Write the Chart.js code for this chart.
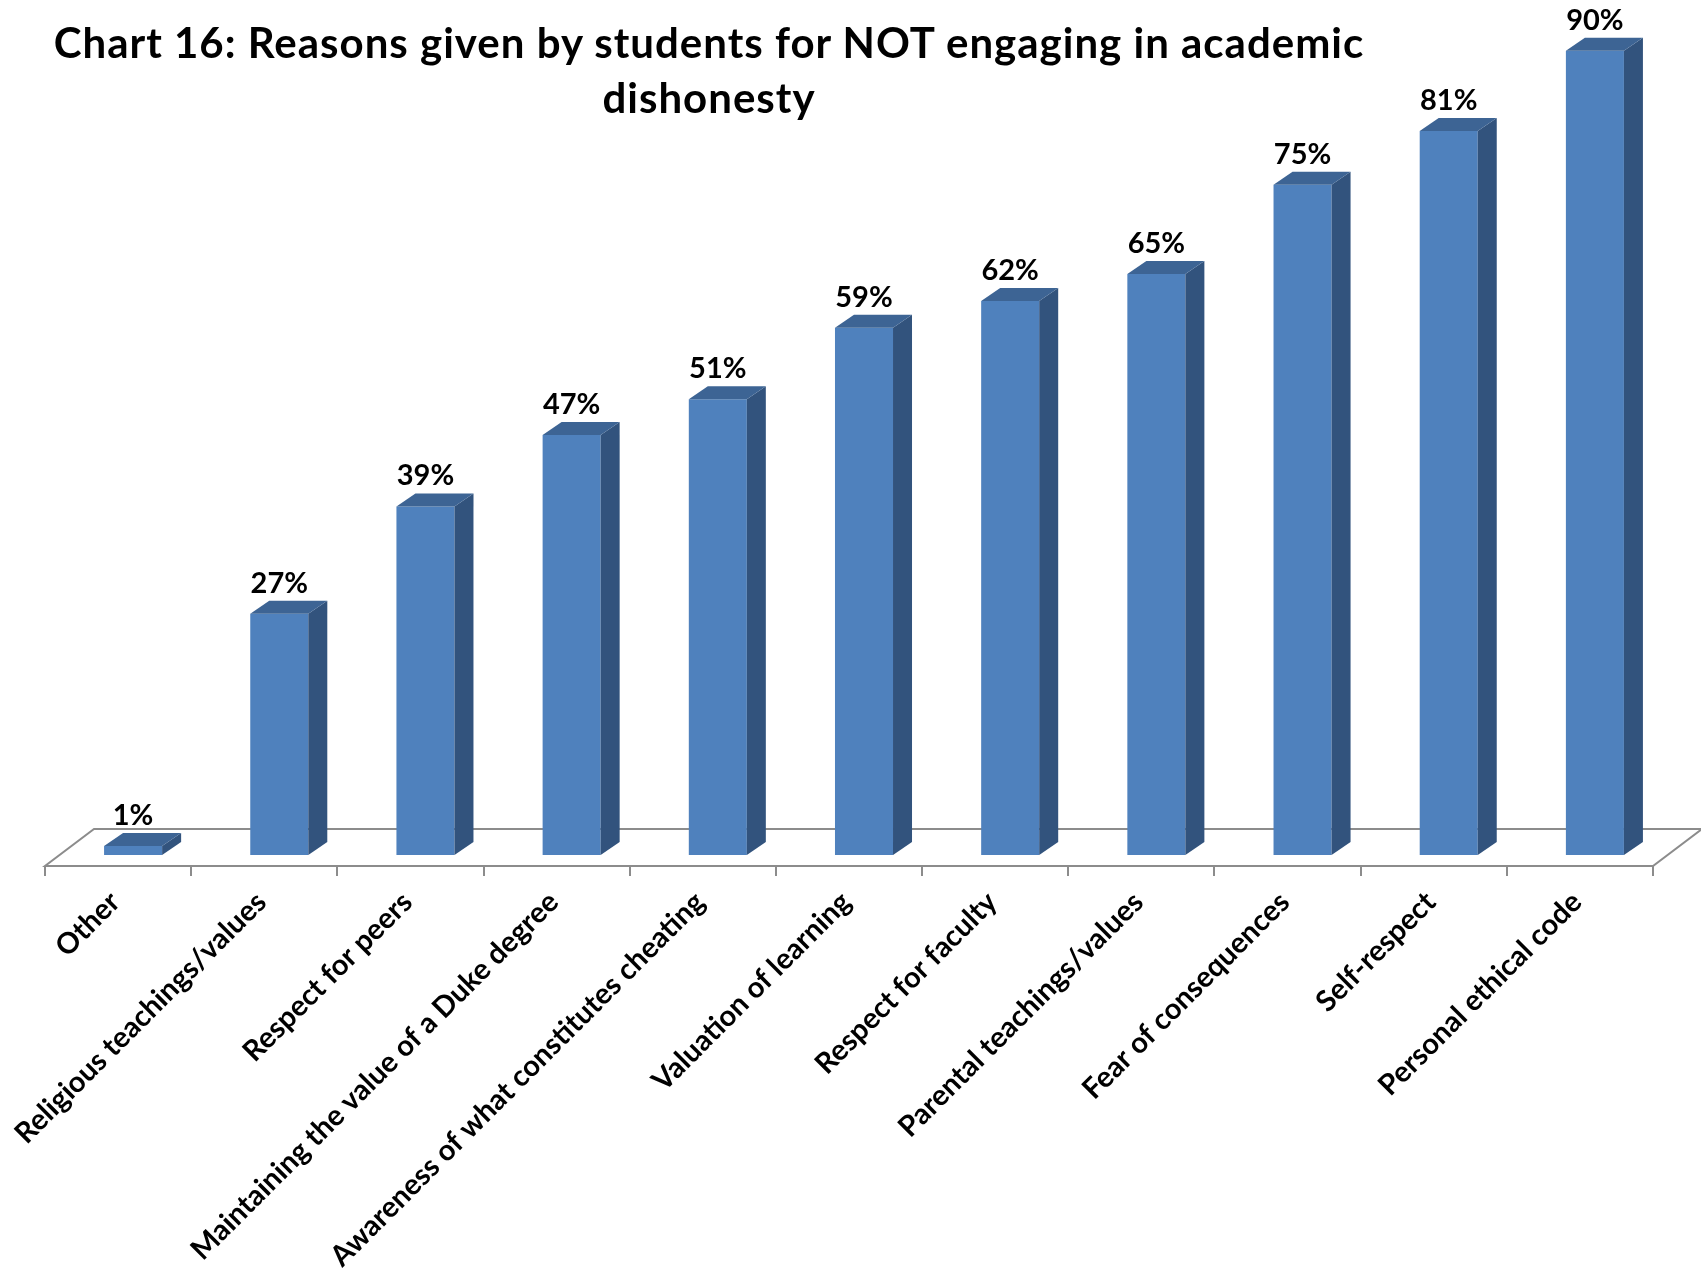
<!DOCTYPE html>
<html>
<head>
<meta charset="utf-8">
<script src="https://cdn.jsdelivr.net/npm/chart.js@4.4.1/dist/chart.umd.min.js"></script>
<style>
    html, body { margin: 0; padding: 0; background: #fff; }
    #wrap { position: relative; width: 1701px; height: 1288px; }
    #title {
        position: absolute; left: 0; top: 15px; width: 1418px;
        text-align: center; white-space: nowrap;
        font: bold 42px Lato, sans-serif; letter-spacing: 1px;
        line-height: 55px; color: #000;
    }
    canvas { position: absolute; left: 0; top: 0; }
</style>
</head>
<body>
<div id="wrap">
    <canvas id="reasonsChart" width="1701" height="1288"></canvas>
    <div id="title">Chart 16: Reasons given by students for NOT engaging in academic<br>dishonesty</div>
</div>
<script>
const CATEGORIES = [
    'Other',
    'Religious teachings/values',
    'Respect for peers',
    'Maintaining the value of a Duke degree',
    'Awareness of what constitutes cheating',
    'Valuation of learning',
    'Respect for faculty',
    'Parental teachings/values',
    'Fear of consequences',
    'Self-respect',
    'Personal ethical code'
];
const PERCENTAGES = [1, 27, 39, 47, 51, 59, 62, 65, 75, 81, 90];

const FRONT = 'rgb(79,129,189)';
const TOP = 'rgb(61,100,148)';
const SIDE = 'rgb(50,83,125)';
const DEPTH_X = 19, DEPTH_Y = 13;      // extrusion of each bar
const FLOOR_DX = 49, FLOOR_DY = 37;    // depth of the floor plane
const FLOOR_SHIFT = 15, FLOOR_DROP = 11;

// Floor outline and category tick marks under the bars
const floorPlugin = {
    id: 'floor',
    beforeDatasetsDraw(chart) {
        const { ctx, chartArea } = chart;
        const x0 = chartArea.left - FLOOR_SHIFT;
        const x1 = chartArea.right - FLOOR_SHIFT;
        const y = chartArea.bottom + FLOOR_DROP;
        ctx.save();
        ctx.strokeStyle = '#8c8c8c';
        ctx.lineWidth = 2;
        ctx.beginPath();
        ctx.moveTo(x0, y);
        ctx.lineTo(x1, y);
        ctx.lineTo(x1 + FLOOR_DX, y - FLOOR_DY);
        ctx.lineTo(x0 + FLOOR_DX, y - FLOOR_DY);
        ctx.closePath();
        ctx.stroke();
        const step = (x1 - x0) / CATEGORIES.length;
        ctx.beginPath();
        for (let i = 0; i <= CATEGORIES.length; i++) {
            const tx = Math.round(x0 + i * step);
            ctx.moveTo(tx, y);
            ctx.lineTo(tx, y + 10);
        }
        ctx.stroke();
        ctx.restore();
    }
};

// Top and side faces of the bars plus the value labels
const boxPlugin = {
    id: 'box3d',
    afterDatasetsDraw(chart) {
        const { ctx } = chart;
        const meta = chart.getDatasetMeta(0);
        ctx.save();
        meta.data.forEach((bar, i) => {
            const { x, y, base, width } = bar.getProps(['x', 'y', 'base', 'width'], true);
            const l = x - width / 2, r = x + width / 2;
            ctx.fillStyle = SIDE;
            ctx.beginPath();
            ctx.moveTo(r, y);
            ctx.lineTo(r + DEPTH_X, y - DEPTH_Y);
            ctx.lineTo(r + DEPTH_X, base - DEPTH_Y);
            ctx.lineTo(r, base);
            ctx.closePath();
            ctx.fill();
            ctx.fillStyle = TOP;
            ctx.beginPath();
            ctx.moveTo(l, y);
            ctx.lineTo(r, y);
            ctx.lineTo(r + DEPTH_X, y - DEPTH_Y);
            ctx.lineTo(l + DEPTH_X, y - DEPTH_Y);
            ctx.closePath();
            ctx.fill();

            ctx.fillStyle = '#000';
            ctx.font = 'bold 29px Lato';
            ctx.textAlign = 'center';
            ctx.textBaseline = 'alphabetic';
            ctx.fillText(PERCENTAGES[i] + '%', x, y - 21);
        });
        ctx.restore();
    }
};

function initChart() {
    Chart.defaults.font.family = 'Lato';
    new Chart(document.getElementById('reasonsChart'), {
        type: 'bar',
        data: {
            labels: CATEGORIES,
            datasets: [{
                data: PERCENTAGES,
                backgroundColor: FRONT,
                borderWidth: 0,
                barPercentage: 0.397,
                categoryPercentage: 1
            }]
        },
        options: {
            responsive: false,
            animation: false,
            layout: { padding: { left: 60, right: 33, top: 6, bottom: 0 } },
            plugins: { legend: { display: false }, tooltip: { enabled: false } },
            scales: {
                y: { display: false, min: 0, max: 95 },
                x: {
                    grid: { display: false, drawTicks: false },
                    border: { display: false },
                    ticks: {
                        color: '#000',
                        font: { size: 29, weight: 'bold' },
                        minRotation: 45,
                        maxRotation: 45,
                        autoSkip: false,
                        padding: 30,
                        labelOffset: -18
                    },
                    afterFit(scale) { scale.height = 433; }
                }
            }
        },
        plugins: [floorPlugin, boxPlugin]
    });
}

document.fonts.load('bold 29px Lato').then(initChart, initChart);
</script>
</body>
</html>
